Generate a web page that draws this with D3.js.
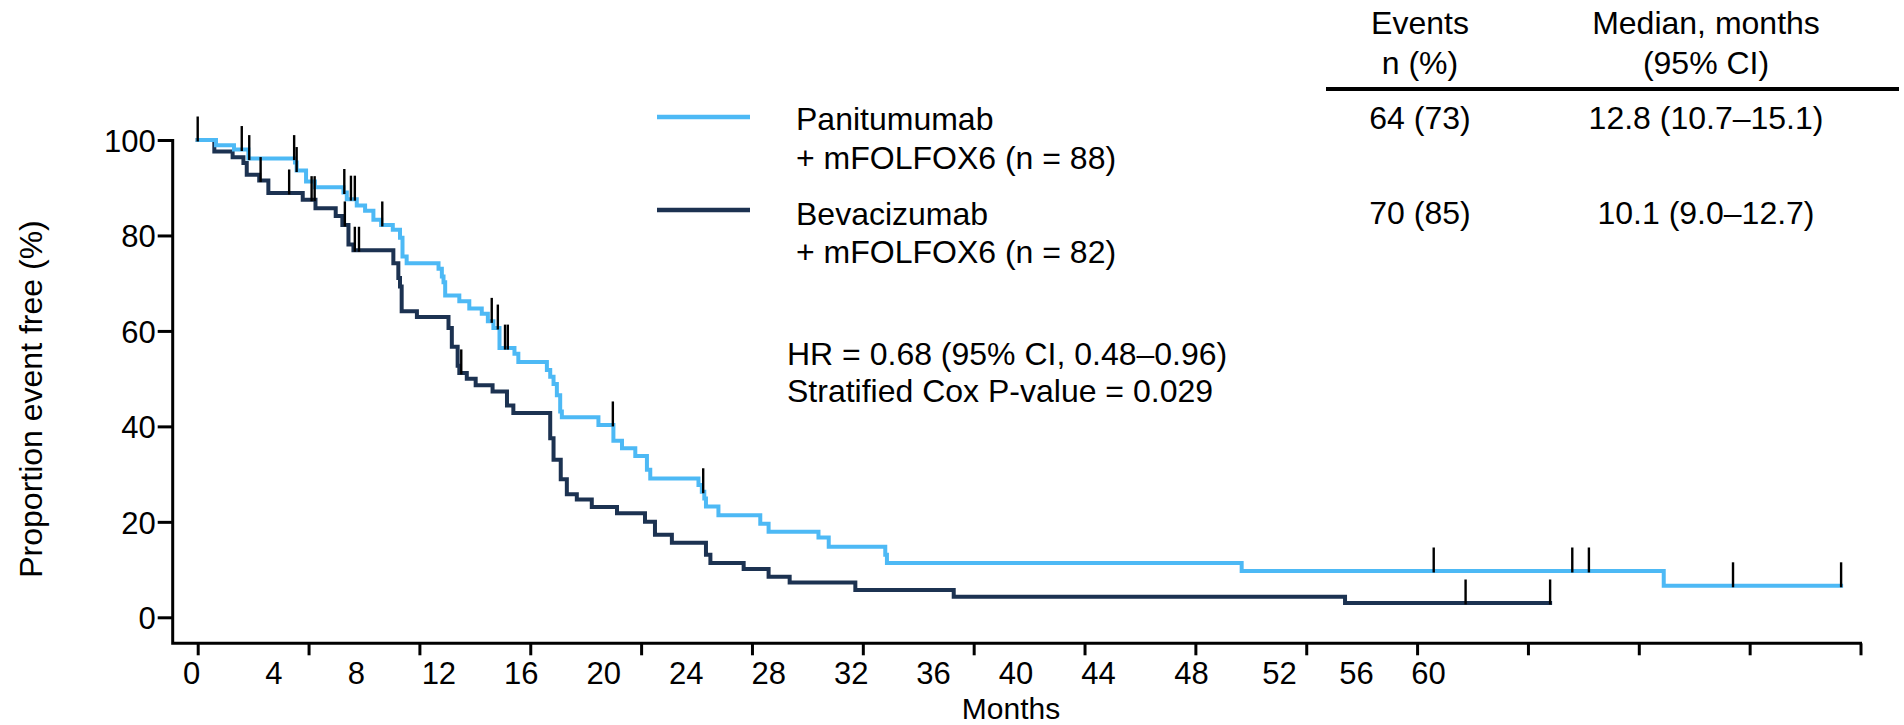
<!DOCTYPE html>
<html>
<head>
<meta charset="utf-8">
<script src="https://cdn.jsdelivr.net/npm/d3@7"></script>
<style>
  html, body { margin: 0; padding: 0; background: #fff; }
  svg { display: block; font-family: "Liberation Sans", Arial, Helvetica, sans-serif; }
</style>
</head>
<body>
<svg id="chart" width="1904" height="725"></svg>
<script>
// Kaplan–Meier step data: time of each drop (months) and the level after it (%)
const panTimes = [0, 0.66, 1.31, 1.83, 3.51, 3.57, 3.91, 4.23, 5.26, 5.38, 5.74, 6.04,
  6.34, 6.62, 7.04, 7.30, 7.39, 7.54, 8.69, 8.81, 8.87, 8.93, 9.44, 9.80,
  10.25, 10.47, 10.67, 10.89, 11.43, 11.57, 12.60, 12.72, 12.84, 12.96, 13.08, 13.14,
  14.46, 15.0, 15.31, 15.79, 16.21, 16.33, 18.07, 18.19, 18.28, 18.34, 18.79, 20.30,
  20.60, 22.40, 22.77, 24.81, 24.87, 37.67, 52.9];
const panSurv = [100, 98.9, 98.0, 96.1, 95.3, 93.6, 91.3, 90.1, 89.0, 87.6, 86.3, 85.2,
  83.3, 82.2, 81.2, 79.5, 75.6, 74.2, 73.0, 71.4, 70.2, 67.4, 66.2, 64.7,
  63.6, 62.0, 60.6, 56.4, 55.2, 53.5, 51.8, 50.4, 48.9, 46.5, 43.1, 41.9,
  40.3, 37.0, 35.4, 33.8, 30.9, 29.1, 27.7, 26.3, 24.9, 23.2, 21.4, 19.6,
  17.9, 16.7, 14.8, 13.1, 11.4, 9.7, 6.6];
const panCensor = [0, 1.59, 1.86, 3.48, 3.57, 5.29, 5.53, 5.67, 6.66, 10.61, 10.83,
  11.09, 11.19, 14.98, 18.24, 44.6, 49.6, 50.2, 55.4, 59.3];
const panEnd = 59.3;

const bevTimes = [0, 0.60, 1.26, 1.65, 1.77, 2.22, 2.55, 3.79, 4.25, 4.98, 5.22, 5.44,
  5.62, 7.06, 7.24, 7.30, 7.36, 7.91, 9.05, 9.17, 9.38, 9.44, 9.71, 10.03,
  10.64, 11.16, 11.39, 12.72, 12.84, 13.10, 13.32, 13.68, 14.22, 15.13, 16.14, 16.50,
  17.11, 18.34, 18.50, 19.70, 20.60, 21.36, 23.73, 27.28, 41.4];
const bevSurv = [100, 97.6, 96.4, 95.2, 92.7, 91.5, 88.9, 87.5, 85.7, 84.1, 82.2, 78.1,
  76.9, 74.2, 71.1, 69.3, 64.1, 62.9, 60.6, 56.7, 52.7, 51.2, 50.0, 48.6,
  47.3, 44.4, 42.8, 37.5, 33.0, 28.9, 25.8, 24.7, 23.1, 21.8, 20.0, 17.3,
  15.6, 13.1, 11.4, 10.1, 8.5, 7.3, 5.7, 4.3, 3.0];
const bevCensor = [2.27, 3.30, 4.11, 4.22, 5.31, 5.67, 5.82, 9.51, 45.75, 48.8];
const bevEnd = 48.8;

// Axis ticks
const monthTicks = [0, 4, 8, 12, 16, 20, 24, 28, 32, 36, 40, 44, 48, 52, 56, 60];
const pctTicks = [0, 20, 40, 60, 80, 100];

// Legend, summary table and statistics text
const armNames = ["Panitumumab", "Bevacizumab"];
const armRegimens = ["+ mFOLFOX6 (n = 88)", "+ mFOLFOX6 (n = 82)"];
const armEvents = ["64 (73)", "70 (85)"];
const armMedians = ["12.8 (10.7\u201315.1)", "10.1 (9.0\u201312.7)"];
const tableHeads = [["Events", "n (%)"], ["Median, months", "(95% CI)"]];
const statLines = ["HR = 0.68 (95% CI, 0.48\u20130.96)", "Stratified Cox P-value = 0.029"];

const colors = ["#4db9f5", "#1c3251"];
const FS = 32, TICK_FS = 31;

const svg = d3.select("#chart");

const x = d3.scaleLinear().domain([0, 60]).range([197.7, 1860.5]);
const y = d3.scaleLinear().domain([0, 100]).range([617.3, 140]);
// month labels sit on their own, tighter spacing along the axis
const xLabel = d3.scaleLinear().domain([0, 44, 48, 52, 56, 60])
  .range([191, 1098, 1191, 1279, 1356, 1428]);

const axisX0 = 172.7, axisY0 = 643.3;

// axis frame
svg.append("path")
  .attr("d", `M${axisX0},${y(100) - 1}V${axisY0}H${x(60) + 1.5}`)
  .attr("fill", "none").attr("stroke", "#000").attr("stroke-width", 3);

// x ticks
const gx = svg.append("g").attr("transform", `translate(0,${axisY0})`)
  .call(d3.axisBottom(x).tickValues(monthTicks).tickSize(12).tickFormat(""));
gx.select(".domain").remove();
gx.selectAll("line").attr("stroke", "#000").attr("stroke-width", 3);

// x tick labels
const gxl = svg.append("g").attr("transform", `translate(0,${axisY0})`)
  .call(d3.axisBottom(xLabel).tickValues(monthTicks).tickSize(0).tickPadding(19).tickFormat(d3.format("d")));
gxl.select(".domain").remove();
gxl.selectAll("text").attr("font-size", TICK_FS).attr("font-family", null).attr("fill", "#000");

// y axis
const gy = svg.append("g").attr("transform", `translate(${axisX0},0)`)
  .call(d3.axisLeft(y).tickValues(pctTicks).tickSize(15).tickPadding(2));
gy.select(".domain").remove();
gy.selectAll("line").attr("stroke", "#000").attr("stroke-width", 3);
gy.selectAll("text").attr("font-size", TICK_FS).attr("font-family", null).attr("fill", "#000").attr("dy", "0.36em");

// axis titles
svg.append("text").attr("x", 1011).attr("y", 718.5).attr("text-anchor", "middle")
  .attr("font-size", 30).text("Months");
svg.append("text").attr("transform", "translate(42,399) rotate(-90)")
  .attr("text-anchor", "middle").attr("font-size", FS).text("Proportion event free (%)");

// step curves
function stepPoints(times, surv, end) {
  const pts = times.map((t, i) => [t, surv[i]]);
  pts.push([end, surv[surv.length - 1]]);
  return pts;
}
function levelAt(times, surv, t) {
  let s = surv[0];
  for (let i = 0; i < times.length; i++) if (times[i] <= t + 1e-9) s = surv[i];
  return s;
}
const line = d3.line().x(d => x(d[0])).y(d => y(d[1])).curve(d3.curveStepAfter);

const arms = [
  { times: panTimes, surv: panSurv, censor: panCensor, end: panEnd, color: colors[0] },
  { times: bevTimes, surv: bevSurv, censor: bevCensor, end: bevEnd, color: colors[1] }
];

// dark curve underneath, light curve on top
[arms[1], arms[0]].forEach(a => {
  svg.append("path")
    .datum(stepPoints(a.times, a.surv, a.end))
    .attr("d", line)
    .attr("fill", "none")
    .attr("stroke", a.color)
    .attr("stroke-width", 4)
    .attr("stroke-linejoin", "miter")
    .attr("stroke-linecap", "square");
});

// censoring marks
arms.forEach(a => {
  svg.append("g").selectAll("line")
    .data(a.censor)
    .join("line")
    .attr("x1", d => x(d)).attr("x2", d => x(d))
    .attr("y1", d => y(levelAt(a.times, a.surv, d)) + 1.5)
    .attr("y2", d => y(levelAt(a.times, a.surv, d)) - 23.5)
    .attr("stroke", "#000")
    .attr("stroke-width", 2.4);
});

// legend
const legendY = [117, 210];
const textY = [[130, 169], [225, 263]];
armNames.forEach((name, i) => {
  svg.append("line")
    .attr("x1", 657).attr("x2", 750)
    .attr("y1", legendY[i]).attr("y2", legendY[i])
    .attr("stroke", colors[i]).attr("stroke-width", 4.5);
  svg.append("text").attr("x", 796).attr("y", textY[i][0]).attr("font-size", FS).text(name);
  svg.append("text").attr("x", 796).attr("y", textY[i][1]).attr("font-size", FS).text(armRegimens[i]);
});

// summary table
const colX = [1420, 1706];
tableHeads.forEach((h, c) => {
  svg.append("text").attr("x", colX[c]).attr("y", 34).attr("text-anchor", "middle")
    .attr("font-size", FS).text(h[0]);
  svg.append("text").attr("x", colX[c]).attr("y", 74).attr("text-anchor", "middle")
    .attr("font-size", FS).text(h[1]);
});
svg.append("line").attr("x1", 1326).attr("x2", 1899).attr("y1", 89).attr("y2", 89)
  .attr("stroke", "#000").attr("stroke-width", 4);
[armEvents, armMedians].forEach((col, c) => {
  col.forEach((v, r) => {
    svg.append("text").attr("x", colX[c]).attr("y", textY[r][0] - 1)
      .attr("text-anchor", "middle").attr("font-size", FS).text(v);
  });
});

// hazard ratio annotation
statLines.forEach((s, i) => {
  svg.append("text").attr("x", 787).attr("y", 365 + i * 37).attr("font-size", FS).text(s);
});
</script>
</body>
</html>
